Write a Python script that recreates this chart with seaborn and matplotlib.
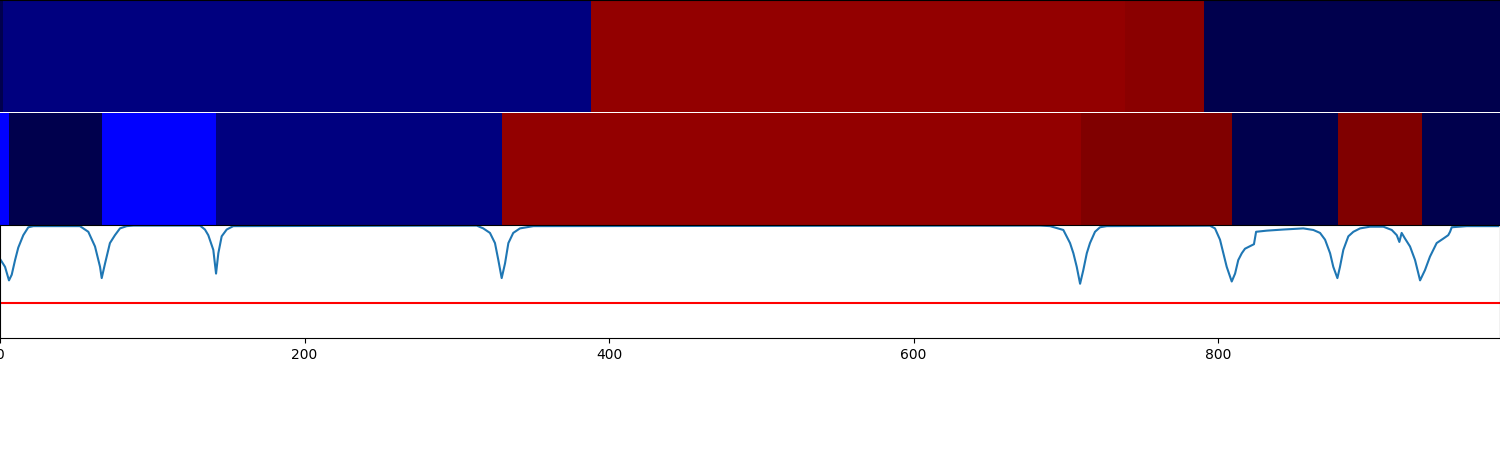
import numpy as np
import matplotlib
matplotlib.use("Agg")
import matplotlib.pyplot as plt
import seaborn as sns

# ---- data ----
# Row 1 segments: boundaries (x) and colour values (seismic scale 0..1)
row1_edges = [0, 2, 388, 739, 791, 985]
row1_values = [0.0, 0.072, 0.96, 0.98, 0.0]

# Row 2 segments
row2_edges = [0, 6, 67, 142, 330, 710, 809, 879, 934, 985]
row2_values = [0.25, 0.0, 0.25, 0.072, 0.96, 1.0, 0.0, 1.0, 0.0]

# Line series (key vertices)
line_x = [0, 3.3, 5.9, 7.7, 9.9, 12.0, 15.3, 18.6, 21.9, 52.5, 58.0, 62.4, 65.7,
          66.8, 69.0, 72.2, 75.5, 78.8, 83.2, 87.6, 131.4, 134.6, 136.8, 140.1,
          141.9, 143.4, 145.6, 148.9, 153.2, 313.1, 317.4, 321.8, 325.1, 327.3,
          329.5, 331.7, 333.9, 337.1, 341.5, 350.3, 683.0, 689.7, 698.4, 702.8,
          705.0, 707.2, 709.4, 711.5, 713.8, 715.9, 719.2, 722.5, 726.9, 794.7,
          798.0, 801.3, 803.5, 805.7, 809.0, 811.2, 813.3, 815.6, 817.7, 822.1,
          823.6, 825.0, 832.0, 842.9, 856.0, 862.6, 867.0, 870.3, 873.6, 875.7,
          878.4, 880.1, 882.3, 885.6, 888.9, 893.3, 899.8, 908.6, 914.1, 917.4,
          919.1, 920.6, 922.8, 926.1, 929.4, 932.7, 935.9, 939.2, 943.6, 948.0,
          951.2, 952.4, 953.5, 963.3, 984]
line_y = [0.70, 0.63, 0.51, 0.56, 0.69, 0.80, 0.91, 0.98, 0.99, 0.99, 0.94, 0.81, 0.63,
          0.53, 0.66, 0.84, 0.91, 0.97, 0.99, 0.995, 0.995, 0.96, 0.91, 0.78,
          0.57, 0.75, 0.90, 0.96, 0.99, 0.995, 0.97, 0.93, 0.84, 0.69,
          0.53, 0.66, 0.84, 0.93, 0.97, 0.99, 0.995, 0.99, 0.956, 0.84,
          0.75, 0.63, 0.48, 0.60, 0.75, 0.84, 0.94, 0.98, 0.99, 0.994,
          0.97, 0.87, 0.75, 0.63, 0.50, 0.57, 0.69, 0.75, 0.79, 0.82,
          0.83, 0.94, 0.95, 0.96, 0.97, 0.956, 0.93, 0.87, 0.75, 0.63,
          0.53, 0.63, 0.78, 0.90, 0.94, 0.97, 0.985, 0.985, 0.956, 0.91,
          0.85, 0.93, 0.88, 0.81, 0.69, 0.51, 0.60, 0.72, 0.84, 0.88,
          0.91, 0.94, 0.98, 0.99, 0.99]
threshold = 0.31

x_ticks = [0, 200, 400, 600, 800]


def build_row(edges, values):
    lengths = np.diff(edges)
    return np.repeat(values, lengths)[None, :]


fig = plt.figure(figsize=(15, 4.5), dpi=100)
ax1 = fig.add_axes([0, 1 - 112 / 450, 1, 112 / 450])
ax2 = fig.add_axes([0, 0.5, 1, 112 / 450])
ax3 = fig.add_axes([0, 1 - 338 / 450, 1, 113 / 450])

xmax = 985.2
for ax, edges, vals in [(ax1, row1_edges, row1_values), (ax2, row2_edges, row2_values)]:
    sns.heatmap(build_row(edges, vals), ax=ax, cmap="seismic", vmin=0, vmax=1,
                cbar=False, xticklabels=False, yticklabels=False)
    ax.set_xlim(0, xmax)
    ax.set_xticks([])
    ax.set_yticks([])

ax1.spines["top"].set_visible(True)
ax1.spines["top"].set_color("black")

sns.lineplot(x=line_x, y=line_y, ax=ax3, color="#1f77b4", linewidth=1.5)
ax3.axhline(threshold, color="red", linewidth=1.5)
ax3.set_xlim(0, xmax)
ax3.set_ylim(0, 1)
ax3.set_xticks(x_ticks)
ax3.set_yticks([])

fig.savefig("out.png", dpi=100)
